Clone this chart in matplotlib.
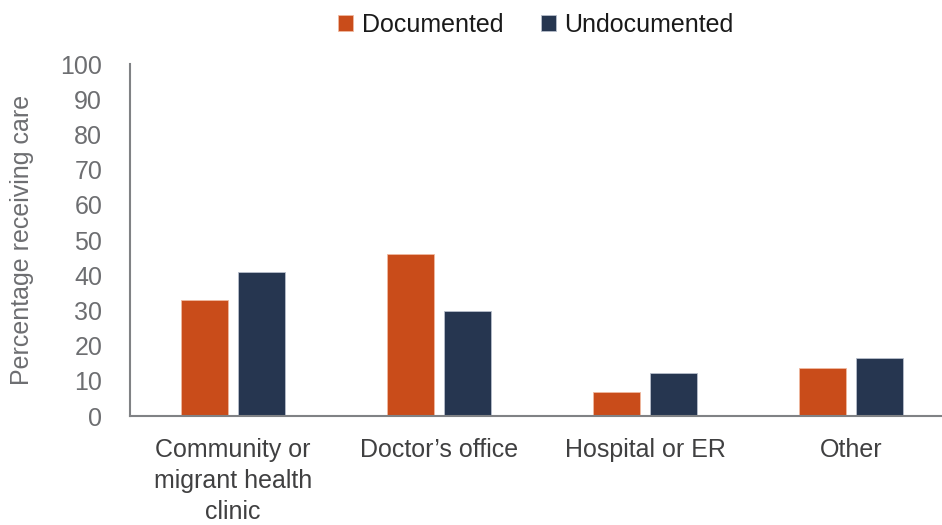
import matplotlib
matplotlib.use('Agg')
import matplotlib.pyplot as plt
import numpy as np

categories = ['Community or\nmigrant health\nclinic', 'Doctor\u2019s office', 'Hospital or ER', 'Other']
documented = [33.0, 45.9, 6.9, 13.6]
undocumented = [41.0, 29.8, 12.1, 16.4]

ORANGE = '#c94c1a'
NAVY = '#263650'
AXIS = '#808285'
TICK = '#6d6e71'

plt.rcParams['font.family'] = ['Liberation Sans', 'DejaVu Sans']

fig = plt.figure(figsize=(9.42, 5.25), dpi=100)
ax = fig.add_axes([130 / 942, 1 - 416 / 525, 812 / 942, (416 - 64) / 525])

x = np.arange(len(categories))
w = 0.228
off = 0.14
ax.bar(x - off, documented, w, color=ORANGE, edgecolor='#f0b9a0', linewidth=0.6, label='Documented')
ax.bar(x + off, undocumented, w, color=NAVY, edgecolor='#b8bfcc', linewidth=0.6, label='Undocumented')

ax.set_xlim(-0.5, -0.5 + 812 / 206)
ax.set_ylim(0, 100)
ax.set_yticks(range(0, 101, 10))
ax.set_xticks(x)
ax.set_xticklabels(categories, fontsize=18, color='#404041', linespacing=1.36)
ax.tick_params(axis='x', length=0, pad=16)
ax.tick_params(axis='y', length=0, pad=20, labelsize=18, labelcolor=TICK)
for s in ['top', 'right']:
    ax.spines[s].set_visible(False)
for s in ['left', 'bottom']:
    ax.spines[s].set_color(AXIS)
    ax.spines[s].set_linewidth(1.5)

ax.set_ylabel('Percentage receiving care', fontsize=18, color=TICK)
ax.yaxis.set_label_coords(-96 / 812, 0.5)

ax.legend(loc='center', bbox_to_anchor=(0.5, 1 + 39 / 352), ncol=2, frameon=False,
          fontsize=18, handlelength=0.6, handleheight=0.6, handletextpad=0.35,
          columnspacing=1.5, labelcolor='#1a1a1a', borderaxespad=0)

fig.savefig('out.png', dpi=100, facecolor='white')
